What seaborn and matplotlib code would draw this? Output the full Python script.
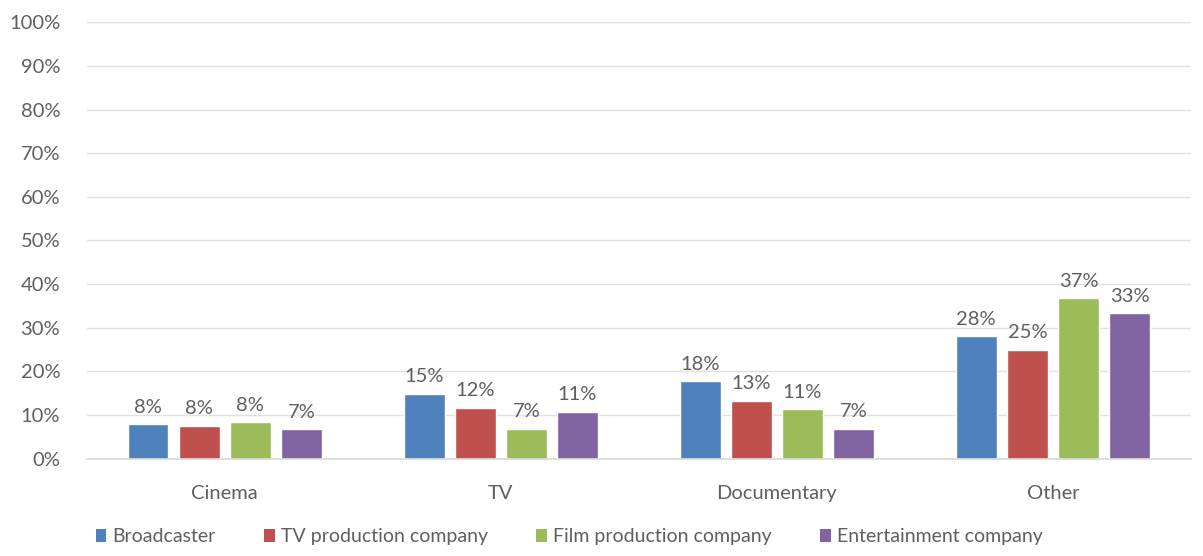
import matplotlib
matplotlib.use("Agg")
import matplotlib.pyplot as plt
import seaborn as sns
import pandas as pd
from matplotlib.ticker import FuncFormatter, MultipleLocator
from matplotlib.patches import Patch

categories = ["Cinema", "TV", "Documentary", "Other"]
series = ["Broadcaster", "TV production company", "Film production company", "Entertainment company"]
broadcaster = [7.9, 14.9, 17.7, 28.0]
tv_production = [7.6, 11.7, 13.3, 25.0]
film_production = [8.4, 6.9, 11.4, 36.8]
entertainment = [6.7, 10.8, 6.9, 33.3]
colors = ["#4F81BD", "#C0504D", "#9BBB59", "#8064A2"]

rows = []
for s, vals in zip(series, [broadcaster, tv_production, film_production, entertainment]):
    for c, v in zip(categories, vals):
        rows.append({"category": c, "series": s, "value": v})
df = pd.DataFrame(rows)

sns.set_theme(style="white")
plt.rcParams["font.family"] = ["Lato", "DejaVu Sans"]
text_color = "#5f5f5f"

fig = plt.figure(figsize=(12.03, 5.56), dpi=100)
ax = fig.add_axes([0.072, 0.175, 0.918, 0.785])

sns.barplot(data=df, x="category", y="value", hue="series", order=categories,
            hue_order=series, palette=colors, width=0.74, gap=0.2,
            saturation=1, ax=ax, legend=False)

for container in ax.containers:
    labels = [f"{round(b.get_height())}%" for b in container]
    ax.bar_label(container, labels=labels, padding=6, fontsize=14.5, color=text_color)

ax.set_ylim(0, 100)
ax.set_xlim(-0.5, 3.5)
ax.yaxis.set_major_locator(MultipleLocator(10))
ax.yaxis.set_major_formatter(FuncFormatter(lambda v, p: f"{int(v)}%"))
ax.grid(axis="y", color="#e0e0e0", linewidth=1)
ax.set_axisbelow(True)
for sp in ["top", "right", "left"]:
    ax.spines[sp].set_visible(False)
ax.spines["bottom"].set_color("#d9d9d9")
ax.set_xlabel("")
ax.set_ylabel("")
ax.tick_params(axis="both", length=0, colors=text_color, labelsize=14.5)
ax.tick_params(axis="x", pad=19)
ax.tick_params(axis="y", pad=19)
for lbl in ax.get_yticklabels():
    lbl.set_horizontalalignment("right")

handles = [Patch(facecolor=c, edgecolor="none") for c in colors]
leg = fig.legend(handles, series, loc="lower center", bbox_to_anchor=(0.473, -0.012), ncol=4,
                 frameon=False, fontsize=14, handlelength=0.55, handleheight=0.7,
                 handletextpad=0.3, columnspacing=2.5, labelcolor=text_color)

fig.savefig("out.png", dpi=100, facecolor="white")
